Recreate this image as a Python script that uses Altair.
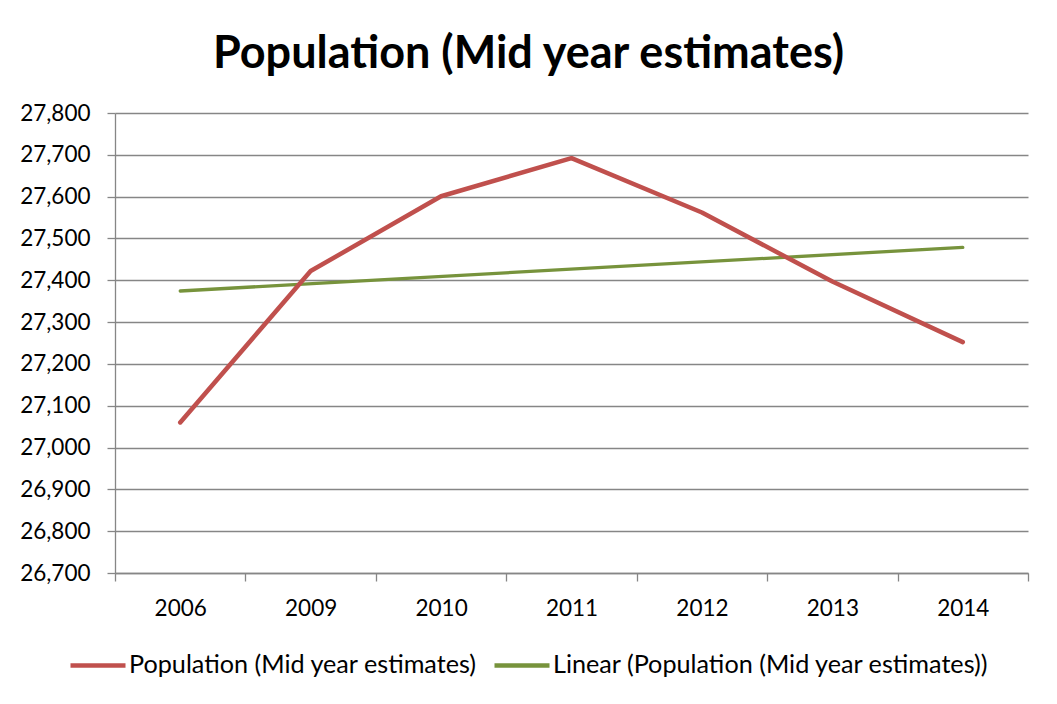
import json
import altair as alt
import pandas as pd

years = ["2006", "2009", "2010", "2011", "2012", "2013", "2014"]
population = [27060, 27422, 27601, 27692, 27562, 27397, 27252]
y_ticks = [26700, 26800, 26900, 27000, 27100, 27200, 27300, 27400, 27500, 27600, 27700, 27800]

series_main = "Population (Mid year estimates)"
series_trend = "Linear (Population (Mid year estimates))"
title_text = "Population (Mid year estimates)"

df = pd.DataFrame({
    "idx": list(range(1, len(years) + 1)),
    "year": years,
    "pop": population,
})

n = len(years)
x_values = [i / 2 for i in range(1, 2 * n + 2)]  # 0.5 .. n+0.5
label_expr = "datum.value % 1 === 0 ? " + json.dumps(years) + "[datum.value - 1] : ''"

FONT = "Lato"
GRID = "#868686"

x_enc = alt.X(
    "idx:Q",
    scale=alt.Scale(domain=[0.5, n + 0.5], nice=False, zero=False),
    axis=alt.Axis(
        title=None,
        values=x_values,
        labelExpr=label_expr,
        grid=False,
        domainColor=GRID,
        domainWidth=1.3,
        tickColor={"condition": {"test": "datum.value % 1 === 0", "value": "transparent"}, "value": GRID},
        tickWidth=1.3,
        tickSize=8,
        labelFont=FONT,
        labelFontSize=22.5,
        labelColor="black",
        labelPadding=16,
        labelOverlap=False,
        labelFlush=False,
    ),
)

y_enc = alt.Y(
    "pop:Q",
    scale=alt.Scale(domain=[y_ticks[0], y_ticks[-1]], nice=False, zero=False),
    axis=alt.Axis(
        title=None,
        values=y_ticks,
        format=",.0f",
        grid=True,
        gridColor=GRID,
        gridWidth=1.3,
        domainColor=GRID,
        domainWidth=1.3,
        tickColor=GRID,
        tickWidth=1.3,
        tickSize=8,
        labelFont=FONT,
        labelFontSize=22.5,
        labelColor="black",
        labelPadding=17,
    ),
)

color_enc = alt.Color(
    "series:N",
    scale=alt.Scale(domain=[series_main, series_trend], range=["#C0504D", "#77933C"]),
    legend=alt.Legend(
        title=None,
        orient="none",
        direction="horizontal",
        legendX=-47,
        legendY=522,
        symbolType="stroke",
        symbolSize=3025,
        symbolStrokeWidth=4.5,
        labelFont=FONT,
        labelFontSize=25.2,
        labelColor="black",
        labelLimit=600,
        labelOffset=1,
        columnPadding=7,
    ),
)

base = alt.Chart(df)

main = base.transform_calculate(series=f"'{series_main}'").mark_line(
    strokeWidth=4.5, strokeCap="round", strokeJoin="round"
).encode(x=x_enc, y=y_enc, color=color_enc)

trend = base.transform_regression("idx", "pop", method="linear").transform_calculate(
    series=f"'{series_trend}'"
).mark_line(strokeWidth=3.3, strokeCap="round").encode(x=x_enc, y=y_enc, color=color_enc)

chart = alt.layer(trend, main).properties(
    width=913,
    height=460,
    padding={"left": 107, "top": 105, "right": 20, "bottom": 120},
    autosize=alt.AutoSizeParams(type="none"),
    background="white",
    title=alt.TitleParams(
        text=title_text,
        font=FONT,
        fontSize=45,
        fontWeight="bold",
        color="black",
        anchor="middle",
        dx=-43,
        offset=25,
    ),
).configure_view(stroke=None)

chart.save("out.html", embed_options={"renderer": "svg", "actions": False})
